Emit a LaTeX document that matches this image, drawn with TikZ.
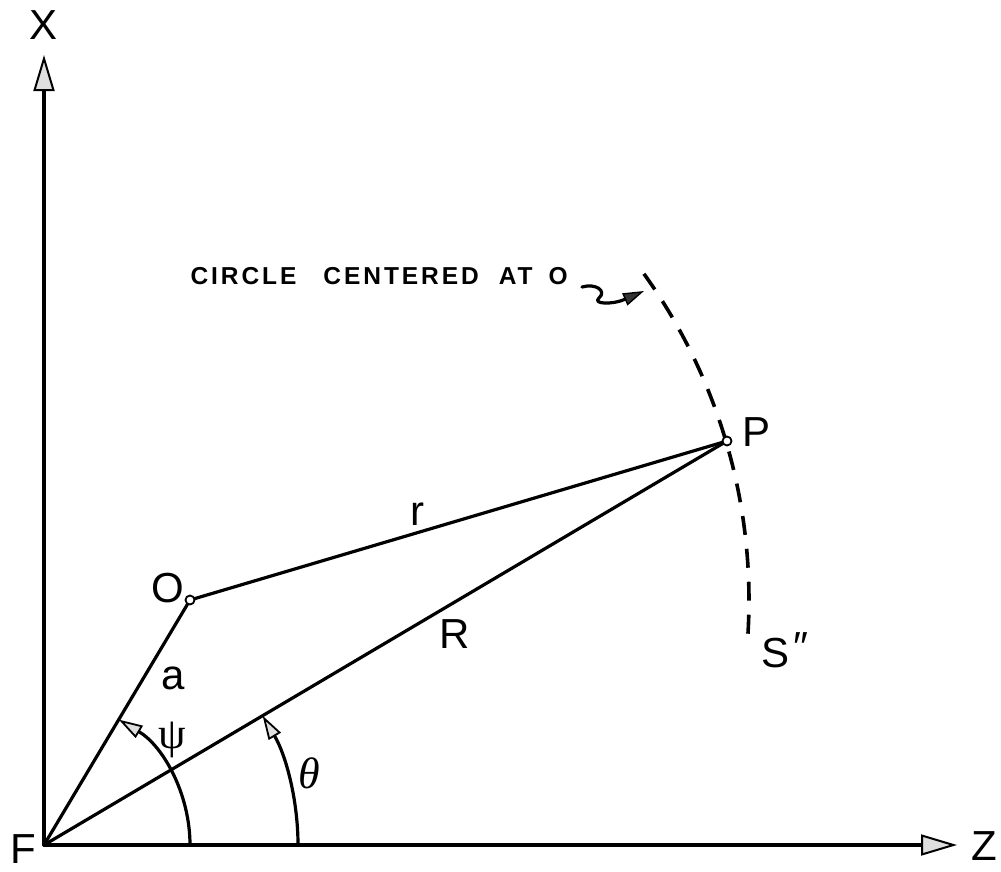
\documentclass[tikz,border=0pt]{standalone}
\usepackage{fontspec}
\setmainfont{Liberation Sans}
\newfontfamily\spacedfont[LetterSpace=12]{Liberation Sans}
\newfontfamily\grkfont{Liberation Serif}
\usetikzlibrary{arrows.meta}
\begin{document}
\begin{tikzpicture}[x=1pt,y=-1pt,
  line width=3.2pt, line cap=round, line join=round,
  lbl/.style={inner sep=0pt, font=\fontsize{42}{42}\selectfont},
  grk/.style={inner sep=0pt, font=\grkfont\fontsize{44}{44}\selectfont},
  ptdot/.style={circle, draw, fill=white, line width=1.8pt, inner sep=0pt, minimum size=9pt},
  axis/.style={-{Triangle[length=36pt,width=21pt,fill=gray!25,line width=2pt]}},
  angarrow/.style={-{Triangle[length=24pt,width=14pt,fill=gray!25,line width=1.8pt]}},
  circdash/.style={dash pattern=on 19pt off 14pt, line width=3.6pt, line cap=butt},
  squig/.style={line width=3.2pt, -{Triangle[length=21pt,width=13pt,fill=gray!40!black,line width=1.4pt]}}]
\useasboundingbox (0,0) rectangle (1001,871);
\coordinate (F) at (44,845);
\coordinate (Xend) at (44,55);
\coordinate (Zend) at (957,845);
\coordinate (O) at (190,600);
\coordinate (P) at (727,441);
% axes
\draw[axis] (F) -- (Xend);
\draw[axis] (F) -- (Zend);
% vectors
\draw (F) -- (O) -- (P);
\draw (F) -- (P);
% angle arcs
\draw[angarrow] (F) ++(146pt,0) arc[start angle=0, end angle=59.2, radius=146pt];
\draw[angarrow] (F) ++(254pt,0) arc[start angle=0, end angle=30.6, radius=254pt];
% dashed circle centred at O
\draw[circdash] (O) ++(35.7:559pt) arc[start angle=35.7, end angle=-4.1, radius=559pt];
% points
\node[ptdot] (Odot) at (O) {};
\node[ptdot] (Pdot) at (P) {};
% circle label
\node[font=\spacedfont\bfseries\fontsize{24.5}{24.5}\selectfont, inner sep=0pt, anchor=west] (ctext) at (189,276)
  {CIRCLE\hspace{27pt}CENTERED\hspace{20pt}AT\hspace{16pt}O};
\coordinate (sq0) at (582,287);
\coordinate (sqtip) at (644,291);
\draw[squig] (sq0) .. controls (596,283) and (607,291) .. (599,298) .. controls (592,304) and (612,305) .. (sqtip);
% labels
\node[lbl] (lX) at (44,25) {X};
\node[lbl] (lZ) at (984,846) {Z};
\node[lbl] (lF) at (23,849) {F};
\node[lbl] (lO) at (168,588) {O};
\node[lbl] (lP) at (756,432) {P};
\node[lbl] (lr) at (417,514) {r};
\node[lbl] (lR) at (455,634) {R};
\node[lbl] (la) at (173,678) {a};
\node[grk] (lpsi) at (172,740) {ψ};
\node[grk, font=\grkfont\itshape\fontsize{44}{44}\selectfont] (ltheta) at (309,773) {θ};
\node[lbl, anchor=base west] (lS) at (760,667) {S\kern4pt\raisebox{6pt}{″}};
\end{tikzpicture}
\end{document}
